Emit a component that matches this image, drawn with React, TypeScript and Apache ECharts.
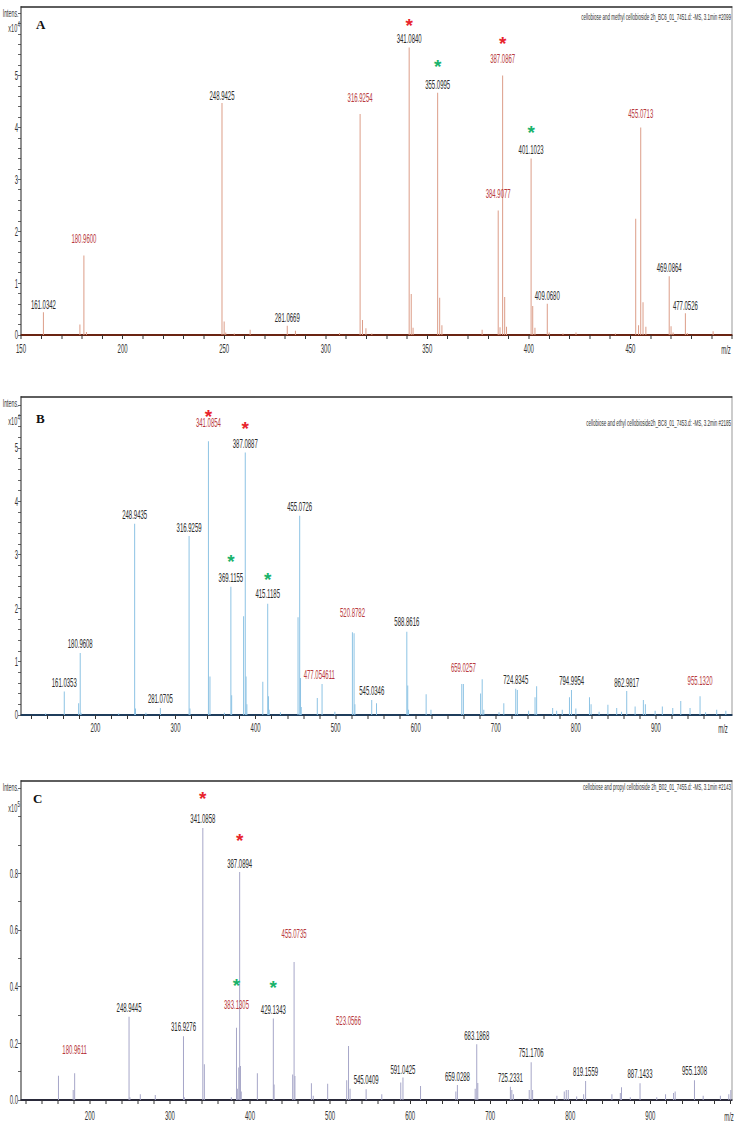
import React, { useEffect, useRef } from 'react';
import * as echarts from 'echarts';

// whole chart is drawn K times wider and squeezed back with CSS (the reference text is very condensed)
const K = 2;
const W = 738;
const H = 1127;
const FONT = '"Liberation Sans", "DejaVu Sans", sans-serif';

// ---------- Panel A (methyl cellobioside) ----------
const titleA = 'cellobiose and methyl cellobioside 2h_BC6_01_7451.d: -MS, 3.1min #2099';
const peaksA: [number, number][] = [
  [161.03, 0.44], [179.0, 0.2], [180.96, 1.53], [182.2, 0.06], [248.94, 4.47], [250.0, 0.26], [250.8, 0.05],
  [255.0, 0.03], [262.8, 0.1], [281.07, 0.18], [285.1, 0.08], [306.8, 0.04], [316.93, 4.26], [318.1, 0.29],
  [319.8, 0.13], [322.7, 0.03], [341.08, 5.54], [342.1, 0.79], [343.0, 0.14], [355.1, 4.67], [356.1, 0.72],
  [357.2, 0.19], [377.0, 0.1], [384.91, 2.4], [385.8, 0.15], [387.09, 5.0], [388.1, 0.73], [389.0, 0.16],
  [401.1, 3.4], [401.9, 0.56], [403.0, 0.14], [409.07, 0.6], [410.0, 0.05], [416.8, 0.03], [423.2, 0.05],
  [442.6, 0.03], [452.6, 2.24], [454.0, 0.19], [455.07, 4.0], [456.2, 0.63], [457.6, 0.16], [469.09, 1.13],
  [470.0, 0.17], [471.0, 0.05], [477.05, 0.42], [478.0, 0.04], [490.7, 0.07],
];
// [m/z, intensity of the peak the label sits on, text, red?]
const labelsA: [number, number, string, number][] = [
  [161.03, 0.44, '161.0342', 0], [180.96, 1.53, '180.9600', 1], [248.94, 4.47, '248.9425', 0],
  [281.07, 0.18, '281.0669', 0], [316.93, 4.26, '316.9254', 1], [341.08, 5.54, '341.0840', 0],
  [355.1, 4.67, '355.0995', 0], [384.91, 2.4, '384.9077', 1], [387.09, 5.0, '387.0867', 1],
  [401.1, 3.4, '401.1023', 0], [409.07, 0.6, '409.0680', 0], [455.07, 4.0, '455.0713', 1],
  [469.09, 1.13, '469.0864', 0], [477.05, 0.42, '477.0526', 0],
];
// [label index, star colour]
const starsA: [number, string][] = [[5, 'r'], [6, 'g'], [8, 'r'], [9, 'g']];
const xTickLabelsA = [150, 200, 250, 300, 350, 400, 450];
const yTickLabelsA = [0, 1, 2, 3, 4, 5];

// ---------- Panel B (ethyl cellobioside) ----------
const titleB = 'cellobiose and ethyl cellobioside2h_BC8_01_7453.d: -MS, 3.2min #2185';
const peaksB: [number, number][] = [
  [137.8, 0.03], [161.04, 0.44], [179.0, 0.22], [180.96, 1.16], [182.0, 0.04], [229.0, 0.03], [248.94, 3.58],
  [250.0, 0.12], [263.0, 0.04], [281.07, 0.13], [316.93, 3.35], [318.0, 0.12], [341.09, 5.12], [343.0, 0.72],
  [361.0, 0.04], [369.12, 2.4], [370.1, 0.37], [385.0, 1.85], [387.09, 4.91], [388.1, 0.72], [389.1, 0.2],
  [409.0, 0.62], [415.12, 2.08], [416.1, 0.35], [417.0, 0.1], [431.0, 0.05], [453.0, 1.83], [455.07, 3.73],
  [456.1, 0.69], [457.0, 0.15], [477.05, 0.32], [483.0, 0.58], [499.0, 0.06], [520.9, 1.55], [523.0, 1.53],
  [524.0, 0.2], [545.03, 0.28], [551.0, 0.22], [588.86, 1.56], [590.0, 0.55], [591.0, 0.1], [613.0, 0.39],
  [619.0, 0.1], [657.5, 0.58], [659.5, 0.58], [681.0, 0.4], [683.0, 0.67], [685.0, 0.1], [704.0, 0.05],
  [710.0, 0.22], [724.9, 0.49], [726.9, 0.47], [741.0, 0.08], [749.0, 0.33], [751.0, 0.54], [771.0, 0.13],
  [776.0, 0.08], [783.0, 0.1], [792.0, 0.33], [794.5, 0.47], [800.0, 0.12], [817.0, 0.33], [819.0, 0.2],
  [829.0, 0.06], [840.0, 0.19], [851.0, 0.13], [857.0, 0.06], [863.5, 0.45], [874.0, 0.16], [884.3, 0.28],
  [886.8, 0.2], [899.0, 0.08], [908.0, 0.16], [921.0, 0.13], [931.0, 0.26], [942.6, 0.13], [955.1, 0.35],
  [962.0, 0.05], [975.9, 0.1], [987.3, 0.08],
];
const labelsB: [number, number, string, number][] = [
  [161.04, 0.44, '161.0353', 0], [180.96, 1.16, '180.9608', 0], [248.94, 3.58, '248.9435', 0],
  [281.07, 0.13, '281.0705', 0], [316.93, 3.35, '316.9259', 0], [341.09, 5.12, '341.0854', 1],
  [369.12, 2.4, '369.1155', 0], [387.09, 4.91, '387.0887', 0], [415.12, 2.08, '415.1185', 0],
  [455.07, 3.73, '455.0726', 0], [479.5, 0.58, '477.054611', 1], [521.0, 1.55, '520.8782', 1],
  [545.03, 0.28, '545.0346', 0], [588.86, 1.56, '588.8616', 0], [659.5, 0.58, '659.0257', 1],
  [724.9, 0.49, '724.8345', 0], [794.8, 0.47, '794.9954', 0], [863.5, 0.45, '862.9817', 0],
  [955.1, 0.35, '955.1320', 1],
];
const starsB: [number, string][] = [[5, 'r'], [6, 'g'], [7, 'r'], [8, 'g']];
const xTickLabelsB = [200, 300, 400, 500, 600, 700, 800, 900];
const yTickLabelsB = [0, 1, 2, 3, 4, 5];

// ---------- Panel C (propyl cellobioside) ----------
const titleC = 'cellobiose and propyl cellobioside 2h_B02_01_7455.d: -MS, 3.1min #2143';
const peaksC: [number, number][] = [
  [160.8, 0.086], [179.2, 0.035], [181.0, 0.094], [248.94, 0.294], [250.0, 0.01], [263.0, 0.02], [281.7, 0.018],
  [316.93, 0.225], [318.0, 0.01], [341.09, 0.96], [343.0, 0.126], [376.7, 0.01], [383.13, 0.255], [384.2, 0.04],
  [386.0, 0.115], [387.09, 0.805], [388.1, 0.12], [389.1, 0.03], [409.2, 0.094], [429.13, 0.288], [430.1, 0.055],
  [453.3, 0.09], [455.07, 0.487], [456.1, 0.085], [476.7, 0.059], [479.0, 0.015], [497.0, 0.057], [520.8, 0.07],
  [523.06, 0.191], [525.0, 0.04], [545.04, 0.038], [564.6, 0.02], [588.3, 0.062], [591.04, 0.079], [613.0, 0.049],
  [657.1, 0.03], [659.03, 0.053], [681.25, 0.04], [683.19, 0.197], [684.5, 0.06], [725.23, 0.047], [727.0, 0.035],
  [729.0, 0.02], [748.75, 0.035], [751.17, 0.133], [753.0, 0.035], [783.3, 0.015], [792.5, 0.03], [795.0, 0.035],
  [797.5, 0.035], [808.0, 0.012], [816.7, 0.02], [819.16, 0.067], [852.0, 0.02], [862.5, 0.025], [864.0, 0.045],
  [875.0, 0.01], [887.14, 0.059], [908.0, 0.01], [919.0, 0.02], [929.0, 0.025], [931.0, 0.03], [955.13, 0.07],
  [966.0, 0.015], [987.5, 0.015], [998.0, 0.02], [1000.5, 0.035],
];
const labelsC: [number, number, string, number][] = [
  [180.96, 0.094, '180.9611', 1], [248.94, 0.294, '248.9445', 0], [316.93, 0.225, '316.9276', 0],
  [341.09, 0.96, '341.0858', 0], [383.13, 0.255, '383.1305', 1], [387.09, 0.805, '387.0894', 0],
  [429.13, 0.288, '429.1343', 0], [455.07, 0.487, '455.0735', 1], [523.06, 0.191, '523.0566', 1],
  [545.04, 0.038, '545.0409', 0], [591.04, 0.079, '591.0425', 0], [659.03, 0.053, '659.0288', 0],
  [683.19, 0.197, '683.1868', 0], [725.23, 0.047, '725.2331', 0], [751.17, 0.133, '751.1706', 0],
  [819.16, 0.067, '819.1559', 0], [887.14, 0.059, '887.1433', 0], [955.13, 0.07, '955.1308', 0],
];
const starsC: [number, string][] = [[3, 'r'], [4, 'g'], [5, 'r'], [6, 'g']];
const xTickLabelsC = [200, 300, 400, 500, 600, 700, 800, 900];
const yTickLabelsC = [0, 0.2, 0.4, 0.6, 0.8];

// ---------- styles (pixel gaps of labels / stars above their anchors) ----------
const gapsA = [8, 17, 7.5, 8.5, 16, 9, 8.5, 16.5, 16.5, 8.5, 8.5, 14, 8.5, 8];
const starGapsA = [18, 23, 21, 23];
const gapsB = [9, 9.3, 9, 9, 8.3, 18.4, 9, 8.7, 10, 9, 9, 20, 9.3, 10, 16.7, 9.7, 9.3, 8.3, 16];
const starGapsB = [11.7, 21.7, 20, 19];
const gapsC = [24, 9.4, 9.3, 9.4, 22.7, 8.4, 9.3, 28, 25, 10, 8.4, 8.3, 9, 9, 9.6, 9.3, 9.3, 9.3];
const starGapsC = [25, 25, 28, 27];

const RED = '#b83a3e';
const BLACK = '#2b2b2b';
const STAR = { r: '#e8242c', g: '#19b36b' } as Record<string, string>;

const range = (a: number, b: number, s: number) => {
  const out: number[] = [];
  for (let i = 0; a + i * s <= b + 1e-9; i++) out.push(+(a + i * s).toFixed(3));
  return out;
};

const panels = [
  {
    peaks: peaksA, labels: labelsA, gaps: gapsA, stars: starsA, starGaps: starGapsA,
    xMin: 150, xMax: 500, yMax: 6.32, xTicks: range(150, 500, 10), xLabels: xTickLabelsA,
    yTicks: range(0, 6.2, 0.2), yLabels: yTickLabelsA, yDigits: 0,
    top: 7, height: 328, color: '#dc9d88', axis: '#6a2412', labelMargin: 8,
    title: titleA, letter: 'A', exp: '4',
    intensY: 13, expY: 28, titleY: 17, letterX: 36, letterY: 24, mzX: 726, mzY: 350,
  },
  {
    peaks: peaksB, labels: labelsB, gaps: gapsB, stars: starsB, starGaps: starGapsB,
    xMin: 107, xMax: 995, yMax: 5.95, xTicks: range(120, 980, 20), xLabels: xTickLabelsB,
    yTicks: range(0, 5.8, 0.2), yLabels: yTickLabelsB, yDigits: 0,
    top: 397, height: 318, color: '#8dc3e4', axis: '#1f3d5c', labelMargin: 7,
    title: titleB, letter: 'B', exp: '4',
    intensY: 403, expY: 421, titleY: 423, letterX: 36, letterY: 418, mzX: 723, mzY: 729,
  },
  {
    peaks: peaksC, labels: labelsC, gaps: gapsC, stars: starsC, starGaps: starGapsC,
    xMin: 114, xMax: 1002, yMax: 1.126, xTicks: range(120, 1000, 20), xLabels: xTickLabelsC,
    yTicks: range(0, 1.1, 0.1), yLabels: yTickLabelsC, yDigits: 1,
    top: 781, height: 319, color: '#a6a6c8', axis: '#2a2a3a', labelMargin: 10,
    title: titleC, letter: 'C', exp: '5',
    intensY: 787, expY: 808, titleY: 787, letterX: 33, letterY: 798, mzX: 729, mzY: 1117,
  },
];

function txt(text: string, x: number, y: number, font: string, fill: string, align: string, extra: any = {}) {
  return {
    type: 'text', x, y, silent: true, ...extra,
    style: { text, font, fill, align, verticalAlign: 'middle', textAlign: align, textVerticalAlign: 'middle' },
  };
}

function buildOption() {
  const grid: any[] = [];
  const xAxis: any[] = [];
  const yAxis: any[] = [];
  const series: any[] = [];
  const graphic: any[] = [];

  panels.forEach((p, i) => {
    grid.push({ left: 21 * K, right: 6 * K, top: p.top, height: p.height });
    xAxis.push({
      type: 'value', gridIndex: i, min: p.xMin, max: p.xMax, position: 'bottom',
      axisLine: { show: true, onZero: false, lineStyle: { color: p.axis, width: 2 } },
      axisTick: { show: true, customValues: p.xTicks, length: 4, lineStyle: { color: '#333', width: K } },
      axisLabel: {
        customValues: p.xLabels, margin: p.labelMargin, color: '#333', fontSize: 12, fontFamily: FONT,
      },
      splitLine: { show: false },
    });
    xAxis.push({
      type: 'value', gridIndex: i, min: p.xMin, max: p.xMax, position: 'top',
      axisLine: { show: true, onZero: false, lineStyle: { color: '#2a2a2a', width: 1.6 } },
      axisTick: { show: false }, axisLabel: { show: false }, splitLine: { show: false },
    });
    yAxis.push({
      type: 'value', gridIndex: i, min: 0, max: p.yMax, position: 'left',
      axisLine: { show: true, onZero: false, lineStyle: { color: '#222', width: K } },
      axisTick: { show: true, customValues: p.yTicks, length: 3 * K, lineStyle: { color: '#333', width: 1 } },
      axisLabel: {
        customValues: p.yLabels, margin: 3 * K, color: '#333', fontSize: 12, fontFamily: FONT,
        formatter: (v: number) => v.toFixed(p.yDigits),
      },
      splitLine: { show: false },
    });
    yAxis.push({
      type: 'value', gridIndex: i, min: 0, max: p.yMax, position: 'right',
      axisLine: { show: true, onZero: false, lineStyle: { color: '#9a9a9a', width: K } },
      axisTick: { show: false }, axisLabel: { show: false }, splitLine: { show: false },
    });
    series.push({
      type: 'bar', xAxisIndex: 2 * i, yAxisIndex: 2 * i, data: p.peaks, barWidth: K,
      itemStyle: { color: p.color }, silent: true,
    });
    series.push({
      type: 'custom', xAxisIndex: 2 * i, yAxisIndex: 2 * i, clip: false, z: 5, silent: true,
      data: p.labels.map((l) => [l[0], l[1]]),
      renderItem: (params: any, api: any) => {
        const idx = params.dataIndex;
        const l = p.labels[idx];
        const pt = api.coord([l[0], l[1]]);
        const ly = pt[1] - p.gaps[idx];
        const children: any[] = [
          txt(l[2], pt[0], ly, `12px ${FONT}`, l[3] ? RED : BLACK, 'center'),
        ];
        p.stars.forEach((s, si) => {
          if (s[0] === idx) {
            const sy = ly - p.starGaps[si];
            children.push(txt('*', pt[0], sy + 5, `bold 19px ${FONT}`, STAR[s[1]], 'center', { scaleX: K }));
          }
        });
        return { type: 'group', children };
      },
    });

    graphic.push(txt(p.title, 731 * K, p.titleY, `9px ${FONT}`, '#333', 'right'));
    graphic.push(txt('Intens.', 18.5 * K, p.intensY, `10.5px ${FONT}`, '#333', 'right'));
    graphic.push(txt('x10', 17.2 * K, p.expY, `11px ${FONT}`, '#333', 'right'));
    graphic.push(txt(p.exp, 17.4 * K, p.expY - 4, `9px ${FONT}`, '#333', 'left', { z: 100 }));
    graphic.push(txt('m/z', p.mzX * K, p.mzY, `12px ${FONT}`, '#333', 'center'));
    graphic.push(
      txt(p.letter, p.letterX * K, p.letterY, 'bold 13px "Liberation Serif", "DejaVu Serif", serif', '#111', 'left', {
        scaleX: K,
      })
    );
  });

  return {
    animation: false,
    backgroundColor: '#ffffff',
    grid,
    xAxis,
    yAxis,
    series,
    graphic: { elements: graphic },
  };
}

export default function App() {
  const ref = useRef<HTMLDivElement>(null);
  useEffect(() => {
    if (!ref.current) return;
    const chart = echarts.init(ref.current, null, { renderer: 'svg' });
    chart.setOption(buildOption() as any);
    return () => chart.dispose();
  }, []);
  return (
    <div style={{ position: 'absolute', left: 0, top: 0, width: W, height: H, overflow: 'hidden', background: '#fff' }}>
      <div
        ref={ref}
        style={{ width: W * K, height: H, transform: `scaleX(${1 / K})`, transformOrigin: '0 0' }}
      />
    </div>
  );
}
